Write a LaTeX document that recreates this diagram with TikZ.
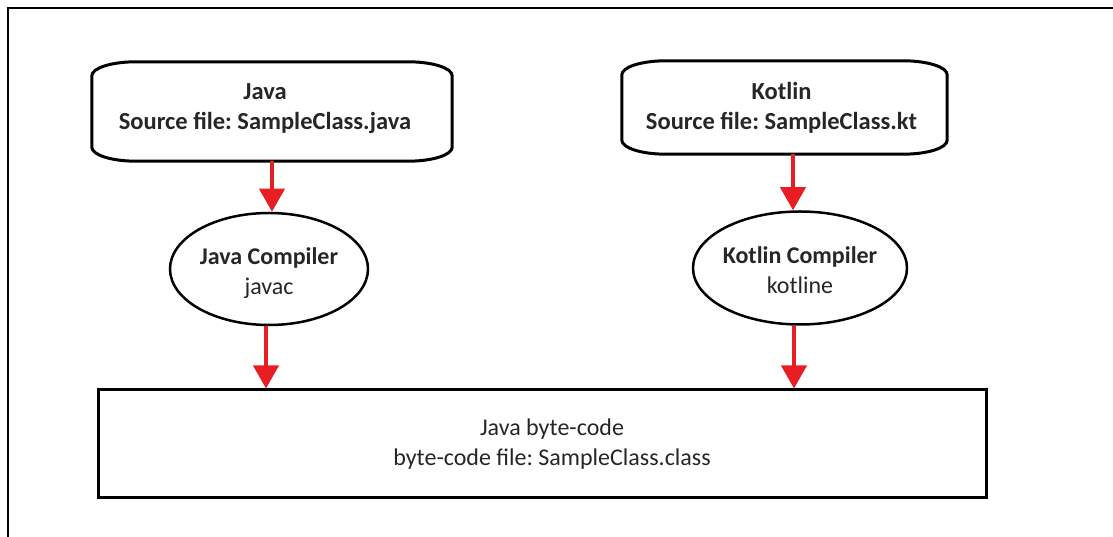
\documentclass[tikz,border=0pt]{standalone}
\usepackage{fontspec}
\setmainfont{Carlito}
\frenchspacing
\usetikzlibrary{arrows.meta,shapes.geometric,calc}
\definecolor{arrowred}{RGB}{232,30,34}
\definecolor{txt}{RGB}{38,38,38}
\tikzset{
  frame/.style={rectangle,draw=none,inner sep=0pt},
  label text/.style={align=center,inner sep=0pt,text=txt,font=\fontsize{24}{30}\selectfont},
  outline/.style={line width=3pt,line join=round},
  compiler/.style={ellipse,draw,line width=2.5pt,inner sep=0pt},
  bytebox/.style={rectangle,draw,line width=3pt,inner sep=0pt},
  flow/.style={draw=arrowred,line width=4pt,-{Triangle[width=25pt,length=23pt]}},
}
% source-file box: straight top and bottom, corners flattened into wide elliptical bends
\newcommand\srcoutline[1]{%
  \draw[outline]
    ($(#1.north east)+(-44pt,0)$) arc[start angle=90,end angle=0,x radius=44pt,y radius=14pt]
    -- ($(#1.south east)+(0,14pt)$) arc[start angle=0,end angle=-90,x radius=44pt,y radius=14pt]
    -- ($(#1.south west)+(44pt,0)$) arc[start angle=270,end angle=180,x radius=44pt,y radius=14pt]
    -- ($(#1.north west)+(0,-14pt)$) arc[start angle=180,end angle=90,x radius=44pt,y radius=14pt]
    -- cycle;}
\begin{document}
\begin{tikzpicture}[x=1pt,y=1pt]
\useasboundingbox (0,0) rectangle (1113,537);
% page frame
\draw[line width=1.6pt] (8,0) -- (8,529) -- (1113,529);

% source files
\node[frame,minimum width=360pt,minimum height=99pt] (jsrc) at (272,425.5) {};
\srcoutline{jsrc}
\node[label text,font=\fontsize{24.5}{30}\selectfont\bfseries] (jsrctxt) at ($(jsrc)+(-7,3)$) {Java\\Source file: SampleClass.java};
\node[frame,minimum width=325pt,minimum height=93pt] (ksrc) at (784.5,429.5) {};
\srcoutline{ksrc}
\node[label text,font=\fontsize{24.5}{30}\selectfont\bfseries] (ksrctxt) at ($(ksrc)+(-3,0)$) {Kotlin\\Source file: SampleClass.kt};

% compilers
\node[compiler,minimum width=198pt,minimum height=112pt] (jc) at (269,268) {};
\node[label text] (jctxt) at ($(jc)+(0,-4)$) {\textbf{Java Compiler}\\javac};
\node[compiler,minimum width=214pt,minimum height=113pt] (kc) at (800,269) {};
\node[label text] (kctxt) at ($(kc)+(0,-2)$) {\textbf{Kotlin Compiler}\\kotline};

% output
\node[bytebox,minimum width=888pt,minimum height=108pt] (bc) at (542,93) {};
\node[label text] (bctxt) at ($(bc)+(10,0)$) {Java byte-code\\byte-code file: SampleClass.class};

\draw[flow] (jsrc.south) -- (jsrc.south |- jc.north);
\draw[flow] ([xshift=-3pt]jc.south) -- ([xshift=-3pt]jc.south |- bc.north);
\draw[flow] ([xshift=-7pt]kc.north |- ksrc.south) -- ([xshift=-7pt]kc.north);
\draw[flow] ([xshift=-6pt]kc.south) -- ([xshift=-6pt]kc.south |- bc.north);
\end{tikzpicture}
\end{document}
